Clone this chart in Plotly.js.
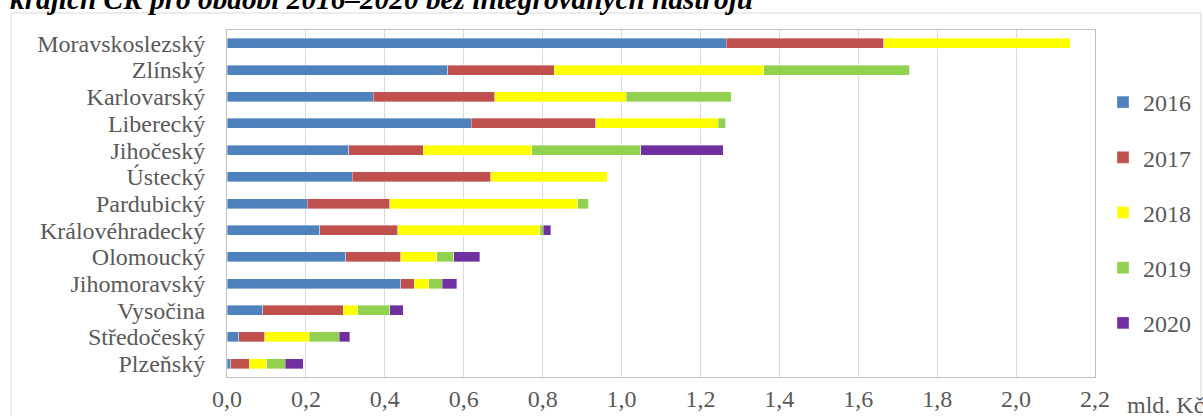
<!DOCTYPE html>
<html>
<head>
<meta charset="utf-8">
<script src="https://cdn.plot.ly/plotly-3.0.1.min.js"></script>
<style>html,body{margin:0;padding:0;background:#fff;}#chart{width:1203px;height:416px;}</style>
</head>
<body>
<div id="chart"></div>
<script>
// Regions, top to bottom
const regions = ["Moravskoslezský","Zlínský","Karlovarský","Liberecký","Jihočeský","Ústecký","Pardubický","Královéhradecký","Olomoucký","Jihomoravský","Vysočina","Středočeský","Plzeňský"];
// Values in mld. Kč
const v2016 = [1.265,0.560,0.371,0.619,0.308,0.318,0.203,0.235,0.301,0.441,0.091,0.030,0.010];
const v2017 = [0.400,0.270,0.307,0.316,0.189,0.350,0.210,0.198,0.140,0.034,0.203,0.066,0.046];
const v2018 = [0.472,0.530,0.334,0.310,0.276,0.297,0.476,0.360,0.090,0.036,0.038,0.113,0.045];
const v2019 = [0,0.370,0.266,0.019,0.276,0,0.028,0.009,0.044,0.035,0.081,0.076,0.047];
const v2020 = [0,0,0,0,0.209,0,0,0.019,0.066,0.036,0.034,0.026,0.045];
const years = ["2016","2017","2018","2019","2020"];
const seriesValues = [v2016,v2017,v2018,v2019,v2020];
const colors = ["#4F81BD","#C0504D","#FFFF00","#92D050","#7030A0"];
const titleText = "krajích ČR pro období 2016–2020 bez integrovaných nástrojů";
const unitText = "mld. Kč";

const FONT = "'Liberation Serif', 'Times New Roman', Times, serif";
const TXT = "#595959";

const traces = years.map((y,i)=>({
  type:"bar", orientation:"h", name:y,
  y:regions, x:seriesValues[i],
  marker:{color:colors[i], line:{color:"rgba(255,255,255,0.6)", width:0.6}},
  legendgroup:"g"+y,
  hoverinfo:"x+y+name"
}));

const W=1203,H=416, L=227,R=108,T=30,B=39;
const pw=W-L-R, ph=H-T-B;
const px=(x)=>(x-L)/pw, py=(y)=>(H-B-y)/ph;

const layout = {
  width:W, height:H,
  margin:{l:L,r:R,t:T,b:B,pad:0, autoexpand:false},
  paper_bgcolor:"#fff", plot_bgcolor:"#fff",
  barmode:"stack", bargap:0.625,
  separators:",.",
  font:{family:FONT, size:24, color:TXT},
  title:{text:"<b><i>"+titleText+"</i></b>", font:{family:FONT,size:29.3,color:"#000"},
         xref:"container", yref:"container", x:10/W, xanchor:"left", y:1-9/H, yanchor:"bottom"},
  xaxis:{range:[0,2.2], dtick:0.2, tick0:0, tickformat:".1f", showgrid:true, gridcolor:"#D9D9D9", gridwidth:1,
         showline:true, mirror:true, linecolor:"#BFBFBF", linewidth:1, zeroline:false, automargin:false,
         ticks:"", tickfont:{family:FONT,size:24,color:TXT}, fixedrange:true},
  yaxis:{type:"category", autorange:"reversed", showgrid:false, showline:true, mirror:true, automargin:false,
         tickmode:"array", tickvals:regions, ticktext:regions,
         linecolor:"#BFBFBF", linewidth:1, ticks:"", ticklabelstandoff:16,
         tickfont:{family:FONT,size:24,color:TXT}, fixedrange:true},
  legend:{x:px(1103), xanchor:"left", y:py(80), yanchor:"top",
          traceorder:"grouped", tracegroupgap:21,
          font:{family:FONT,size:24,color:TXT}, bgcolor:"rgba(0,0,0,0)", itemwidth:30},
  annotations:[{text:unitText, xref:"paper", yref:"paper", x:px(1125), xanchor:"left", y:py(405), yanchor:"middle",
                showarrow:false, font:{family:FONT,size:24,color:TXT}}],
  shapes:[{type:"rect", xref:"paper", yref:"paper", x0:px(11), x1:px(1201), y0:py(430), y1:py(13),
           line:{color:"#D9D9D9", width:1}, fillcolor:"rgba(0,0,0,0)", layer:"below"}]
};

Plotly.newPlot("chart", traces, layout, {displayModeBar:false, staticPlot:true});
</script>
</body>
</html>
